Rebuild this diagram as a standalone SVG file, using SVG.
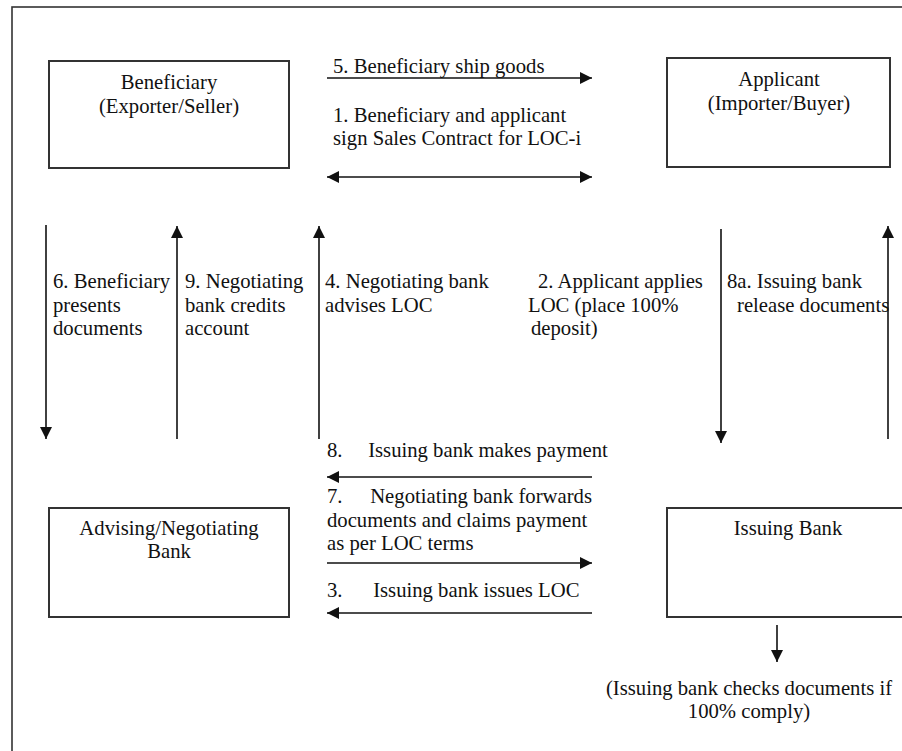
<svg xmlns="http://www.w3.org/2000/svg" width="902" height="751" viewBox="0 0 902 751">
<style>
  text { font-family: "Liberation Serif", "Times New Roman", serif; font-size: 20.7px; fill: #111; }
  .c { text-anchor: middle; }
  .box { fill: #fff; stroke: #333; stroke-width: 2; }
  .ln { stroke: #111; stroke-width: 1.6; fill: none; }
</style>
<defs>
  <marker id="ah" markerUnits="userSpaceOnUse" markerWidth="14" markerHeight="12" refX="12" refY="6" orient="auto-start-reverse">
    <path d="M0,0 L12,6 L0,12 Z" fill="#111"/>
  </marker>
</defs>
<rect width="902" height="751" fill="#fff"/>
<rect x="12" y="7" width="1000" height="1000" fill="none" stroke="#333" stroke-width="1.6"/>

<g id="beneficiary">
  <rect class="box" x="49" y="61" width="240" height="107"/>
  <text class="c" x="169" y="89">Beneficiary</text>
  <text class="c" x="169" y="113">(Exporter/Seller)</text>
</g>
<g id="applicant">
  <rect class="box" x="667" y="58" width="223" height="109"/>
  <text class="c" x="779" y="86">Applicant</text>
  <text class="c" x="779" y="110">(Importer/Buyer)</text>
</g>
<g id="advising-bank">
  <rect class="box" x="49" y="508" width="240" height="109"/>
  <text class="c" x="169" y="535">Advising/Negotiating</text>
  <text class="c" x="169" y="558">Bank</text>
</g>
<g id="issuing-bank">
  <rect class="box" x="667" y="508" width="242" height="109"/>
  <text class="c" x="788" y="535">Issuing Bank</text>
</g>

<g id="connectors">
  <line class="ln" x1="327" y1="78" x2="592" y2="78" marker-end="url(#ah)"/>
  <line class="ln" x1="327" y1="177" x2="592" y2="177" marker-start="url(#ah)" marker-end="url(#ah)"/>
  <line class="ln" x1="46" y1="225" x2="46" y2="439" marker-end="url(#ah)"/>
  <line class="ln" x1="177" y1="439" x2="177" y2="226" marker-end="url(#ah)"/>
  <line class="ln" x1="319" y1="439" x2="319" y2="226" marker-end="url(#ah)"/>
  <line class="ln" x1="721" y1="229" x2="721" y2="443" marker-end="url(#ah)"/>
  <line class="ln" x1="888" y1="439" x2="888" y2="226" marker-end="url(#ah)"/>
  <line class="ln" x1="592" y1="477" x2="327" y2="477" marker-end="url(#ah)"/>
  <line class="ln" x1="327" y1="563" x2="592" y2="563" marker-end="url(#ah)"/>
  <line class="ln" x1="592" y1="613" x2="327" y2="613" marker-end="url(#ah)"/>
  <line class="ln" x1="777" y1="625" x2="777" y2="662" marker-end="url(#ah)"/>
</g>

<g id="labels">
  <text x="333" y="73">5. Beneficiary ship goods</text>
  <text x="333" y="122">1. Beneficiary and applicant</text>
  <text x="333" y="145">sign Sales Contract for LOC-i</text>

  <text x="53" y="288">6. Beneficiary</text>
  <text x="53" y="312">presents</text>
  <text x="53" y="335">documents</text>

  <text x="185" y="288">9. Negotiating</text>
  <text x="185" y="312">bank credits</text>
  <text x="185" y="335">account</text>

  <text x="325" y="288">4. Negotiating bank</text>
  <text x="325" y="312">advises LOC</text>

  <text x="538" y="288">2. Applicant applies</text>
  <text x="528" y="312">LOC (place 100%</text>
  <text x="531" y="335">deposit)</text>

  <text x="727" y="288">8a. Issuing bank</text>
  <text x="737" y="312">release documents</text>

  <text y="457"><tspan x="327">8.</tspan><tspan x="363"> Issuing bank makes payment</tspan></text>
  <text y="503"><tspan x="327">7.</tspan><tspan x="365"> Negotiating bank forwards</tspan></text>
  <text x="327" y="527">documents and claims payment</text>
  <text x="327" y="550">as per LOC terms</text>
  <text y="597"><tspan x="327">3.</tspan><tspan x="368"> Issuing bank issues LOC</tspan></text>

  <text class="c" x="749" y="695">(Issuing bank checks documents if</text>
  <text class="c" x="749" y="718">100% comply)</text>
</g>
</svg>
